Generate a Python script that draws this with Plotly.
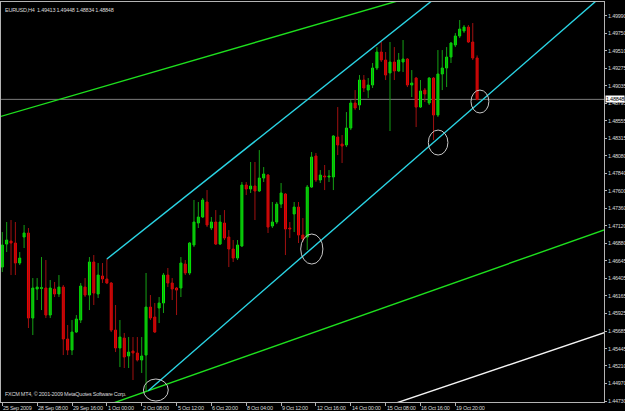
import plotly.graph_objects as go

# ---- data (EURUSD H4, bar index 0 = 25 Sep 2009 04:00) ----
opens = [1.46559,1.46873,1.46914,1.46887,1.46614,1.46969,1.47024,1.45863,1.46259,1.46266,
1.46273,1.45904,1.46259,1.46191,1.46286,1.45577,1.45426,1.45672,1.45836,1.46286,
1.46177,1.46628,1.46191,1.46437,1.46396,1.46341,1.45699,1.45454,1.45590,1.45345,
1.45413,1.45386,1.45290,1.45358,1.46013,1.45877,1.46000,1.46068,1.46450,1.46341,
1.46273,1.46273,1.46600,1.46478,1.46860,1.47160,1.47242,1.47447,1.47092,1.47174,
1.46873,1.47160,1.46969,1.46805,1.46682,1.46846,1.47679,1.47624,1.47665,1.47597,
1.47774,1.47815,1.47119,1.47174,1.47419,1.47556,1.47092,1.47283,1.47378,1.46996,
1.46969,1.47651,1.48075,1.47747,1.47802,1.47788,1.47788,1.48334,1.48238,1.48225,
1.48457,1.48798,1.48771,1.49112,1.48975,1.49044,1.49276,1.49494,1.49385,1.49208,
1.49358,1.49235,1.49358,1.49399,1.49044,1.49139,1.48743,1.48975,1.48798,1.49139,
1.48634,1.49194,1.49276,1.49426,1.49590,1.49713,1.49781,1.49835,1.49631,1.49413]
highs = [1.47037,1.47174,1.47201,1.47174,1.46764,1.47133,1.47092,1.46409,1.46409,1.46696,
1.46655,1.46382,1.46355,1.46450,1.46314,1.45768,1.45836,1.45904,1.46341,1.46409,
1.46696,1.46723,1.46614,1.46614,1.46669,1.46355,1.46041,1.45836,1.45659,1.45604,
1.45604,1.45604,1.45604,1.46478,1.46177,1.46068,1.46150,1.46478,1.46546,1.46409,
1.46286,1.46696,1.46655,1.46901,1.47474,1.47447,1.47501,1.47610,1.47242,1.47337,
1.47269,1.47337,1.47064,1.46928,1.46928,1.47720,1.47720,1.47993,1.47993,1.48156,
1.47924,1.47829,1.47447,1.47447,1.47706,1.47570,1.47174,1.47447,1.47447,1.47228,
1.47679,1.48129,1.48116,1.47883,1.47952,1.47883,1.48361,1.48743,1.48361,1.48675,
1.48839,1.48975,1.49180,1.49180,1.49139,1.49344,1.49562,1.49631,1.49494,1.49631,
1.49562,1.49481,1.49658,1.49412,1.49248,1.49153,1.49112,1.49003,1.49153,1.49153,
1.49521,1.49521,1.49562,1.49631,1.49753,1.49931,1.49863,1.49863,1.49890,1.49448]
lows = [1.46491,1.46764,1.46450,1.46450,1.46587,1.46819,1.45727,1.45631,1.46109,1.45972,
1.45863,1.45863,1.46150,1.46150,1.45358,1.45358,1.45358,1.45659,1.45795,1.46150,
1.45972,1.46041,1.46136,1.46341,1.46327,1.45672,1.45399,1.45194,1.45181,1.45181,
1.45017,1.45270,1.45113,1.44853,1.45836,1.45659,1.45795,1.45932,1.46286,1.46109,
1.45904,1.46150,1.46450,1.46450,1.46832,1.47092,1.47228,1.47105,1.47064,1.46860,
1.46860,1.46928,1.46559,1.46628,1.46655,1.46832,1.47542,1.47570,1.47201,1.47583,
1.47720,1.47024,1.47092,1.47146,1.47365,1.46723,1.46955,1.47037,1.46887,1.46901,
1.46791,1.47638,1.47720,1.47706,1.47610,1.47720,1.47610,1.48088,1.47979,1.48197,
1.48429,1.48702,1.48702,1.48948,1.48866,1.49003,1.49248,1.49358,1.49112,1.48416,
1.49112,1.49221,1.49221,1.49016,1.48880,1.48470,1.48730,1.48812,1.48771,1.48293,
1.48607,1.48975,1.49016,1.49344,1.49562,1.49685,1.49754,1.49617,1.49385,1.48834]
closes = [1.46860,1.46928,1.46887,1.46614,1.46682,1.47024,1.45863,1.46273,1.46286,1.46279,
1.45904,1.46273,1.46191,1.46286,1.45577,1.45426,1.45672,1.45850,1.46300,1.46177,
1.46628,1.46204,1.46450,1.46396,1.46341,1.45699,1.45454,1.45604,1.45331,1.45399,
1.45386,1.45290,1.45345,1.46013,1.45863,1.45672,1.46068,1.46450,1.46341,1.46259,
1.46245,1.46614,1.46478,1.46887,1.47174,1.47242,1.47474,1.47133,1.47174,1.46873,
1.47174,1.46955,1.46805,1.46682,1.46860,1.47679,1.47624,1.47665,1.47597,1.47774,
1.47829,1.47105,1.47174,1.47419,1.47570,1.47078,1.47078,1.47378,1.46996,1.46942,
1.47651,1.48061,1.47747,1.47815,1.47788,1.47802,1.48348,1.48225,1.48211,1.48457,
1.48798,1.48730,1.49112,1.49003,1.49044,1.49276,1.49494,1.49385,1.49180,1.49358,
1.49235,1.49385,1.49399,1.49044,1.49071,1.48743,1.48962,1.48921,1.49139,1.48634,
1.49194,1.49276,1.49426,1.49617,1.49713,1.49808,1.49835,1.49631,1.49412,1.48848]

time_tick_bars = [0, 8, 16, 24, 32, 40, 48, 56, 64, 72, 80, 88, 96, 104]
time_tick_labels = ["25 Sep 2009", "28 Sep 08:00", "29 Sep 16:00", "1 Oct 00:00",
                    "2 Oct 08:00", "5 Oct 12:00", "6 Oct 20:00", "8 Oct 04:00",
                    "9 Oct 12:00", "12 Oct 16:00", "14 Oct 00:00", "15 Oct 08:00",
                    "16 Oct 16:00", "19 Oct 20:00"]
price_ticks = [1.49990, 1.49750, 1.49510, 1.49275, 1.49035, 1.48795, 1.48555, 1.48315,
               1.48080, 1.47840, 1.47600, 1.47360, 1.47120, 1.46880, 1.46645, 1.46405,
               1.46165, 1.45925, 1.45685, 1.45445, 1.45210, 1.44970, 1.44730]
bid_price = 1.48848
header_text = "EURUSD,H4  1.49413 1.49448 1.48834 1.48848"
copyright_text = "FXCM MT4, \u00a9 2001-2009 MetaQuotes Software Corp."

# drawn objects: (bar index, price) anchor points
green_upper = [(0, 1.48621), (80, 1.50005)]      # full line
green_lower = [(33.5, 1.44871), (138.1, 1.47064)] # full line
white_lower = [(91.3, 1.44721), (138.1, 1.45663)] # full line
cyan_lower = [(33.5, 1.44871), (132.6, 1.49999)]  # ray from first point
cyan_upper = [(24, 1.46669), (97.4, 1.50136)]     # ray from first point
ellipses = [(32.4, 38.1, 1.44730, 1.45031), (68.5, 73.6, 1.46600, 1.47010),
            (97.8, 102.3, 1.48088, 1.48429), (107.6, 111.7, 1.48662, 1.48975)]

X_RANGE = [-0.3, 138.13]
Y_RANGE = [1.44717, 1.50177]
FONT = "Liberation Sans, Arial, sans-serif"
TXT = "#d8d8d8"

def tight(t, ls=-0.25):
    return '<span style="letter-spacing:%spx">%s</span>' % (ls, t)

idx = list(range(len(opens)))
up = [c >= o for o, c in zip(opens, closes)]

fig = go.Figure()

def wick_xy(flag):
    xs, ys = [], []
    for i in idx:
        if up[i] == flag:
            xs += [i, i, None]
            ys += [lows[i], highs[i], None]
    return xs, ys

for flag, col in ((True, "#14a014"), (False, "#a01010")):
    xs, ys = wick_xy(flag)
    fig.add_trace(go.Scatter(x=xs, y=ys, mode="lines", line=dict(color=col, width=1),
                             hoverinfo="skip"))

for flag, col in ((True, "#00f000"), (False, "#f00000")):
    sel = [i for i in idx if up[i] == flag]
    fig.add_trace(go.Bar(
        x=sel,
        base=[min(opens[i], closes[i]) for i in sel],
        y=[abs(closes[i] - opens[i]) for i in sel],
        width=0.45,
        marker=dict(color=col, line=dict(color=col, width=1)),
        hoverinfo="skip"))

def extend(p, ray):
    (x0, y0), (x1, y1) = p
    s = (y1 - y0) / (x1 - x0)
    xa = x0 if ray else X_RANGE[0] - 5
    xb = X_RANGE[1] + 5
    return [xa, xb], [y0 + s * (xa - x0), y0 + s * (xb - x0)]

for pts, ray, col in ((green_upper, False, "#1ee01e"), (green_lower, False, "#1ee01e"),
                      (white_lower, False, "#f4f4f4"), (cyan_lower, True, "#2ad4e4"),
                      (cyan_upper, True, "#2ad4e4")):
    xs, ys = extend(pts, ray)
    fig.add_trace(go.Scatter(x=xs, y=ys, mode="lines", line=dict(color=col, width=1.4),
                             hoverinfo="skip"))

shapes = [dict(type="line", xref="paper", x0=0, x1=1, yref="y", y0=bid_price, y1=bid_price,
               line=dict(color="#7c7c7c", width=1), layer="below")]
for x0, x1, y0, y1 in ellipses:
    shapes.append(dict(type="circle", xref="x", yref="y", x0=x0, x1=x1, y0=y0, y1=y1,
                       line=dict(color="#c8c8c8", width=1)))

annotations = []
for b, t in zip(time_tick_bars, time_tick_labels):
    annotations.append(dict(x=b, y=0, xref="x", yref="paper", text=tight(t), showarrow=False,
                            xanchor="left", yanchor="top", xshift=-1, yshift=-1,
                            font=dict(family=FONT, size=5.5, color=TXT)))
annotations.append(dict(x=0, y=1, xref="paper", yref="paper", text=tight(header_text),
                        showarrow=False, xanchor="left", yanchor="top", xshift=2, yshift=-3,
                        font=dict(family=FONT, size=5.5, color=TXT)))
annotations.append(dict(x=0, y=0, xref="paper", yref="paper", text=tight(copyright_text),
                        showarrow=False, xanchor="left", yanchor="bottom", xshift=2, yshift=3,
                        font=dict(family=FONT, size=5.5, color=TXT)))
annotations.append(dict(x=1, y=bid_price, xref="paper", yref="y",
                        text=tight("%.5f" % bid_price),
                        showarrow=False, xanchor="left", yanchor="middle", xshift=1,
                        bgcolor="#ffffff", borderpad=0,
                        font=dict(family=FONT, size=5.5, color="#000000")))

fig.update_layout(
    width=625, height=411,
    margin=dict(l=1, r=21, t=2, b=9, pad=0),
    paper_bgcolor="#000000", plot_bgcolor="#000000",
    showlegend=False, barmode="overlay",
    shapes=shapes, annotations=annotations,
    xaxis=dict(range=X_RANGE, showgrid=False, zeroline=False, showline=True, mirror=True,
               linecolor="#b4b4b4", linewidth=1, ticks="outside", ticklen=3,
               tickcolor="#b4b4b4", tickvals=time_tick_bars, showticklabels=False,
               fixedrange=True),
    yaxis=dict(range=Y_RANGE, side="right", showgrid=False, zeroline=False, showline=True,
               mirror=True, linecolor="#b4b4b4", linewidth=1, ticks="outside", ticklen=2,
               tickcolor="#b4b4b4", tickvals=price_ticks,
               ticktext=[tight("%.5f" % v) for v in price_ticks], automargin=False,
               tickfont=dict(family=FONT, size=5.5, color=TXT), fixedrange=True),
)

fig.write_html("out.html")
